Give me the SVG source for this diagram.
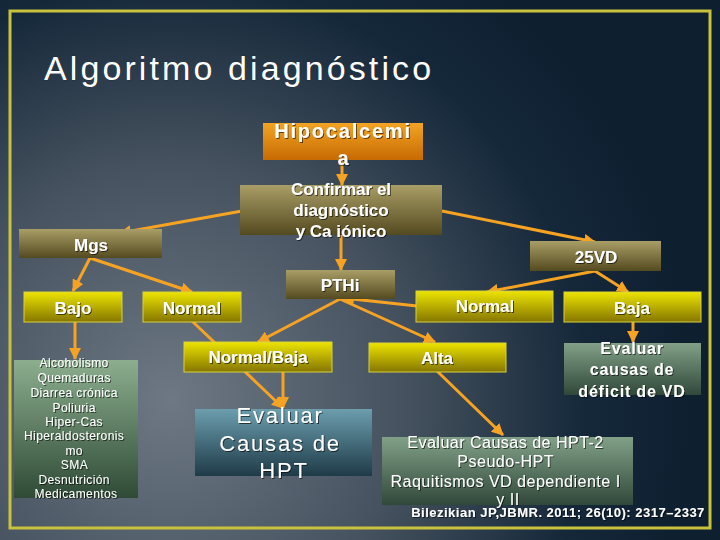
<svg xmlns="http://www.w3.org/2000/svg" width="720" height="540" viewBox="0 0 720 540">
<defs>
<radialGradient id="bg" cx="170" cy="400" r="520" gradientUnits="userSpaceOnUse">
<stop offset="0" stop-color="#6d7884"/>
<stop offset="0.45" stop-color="#46525f"/>
<stop offset="0.8" stop-color="#15283a"/>
<stop offset="1" stop-color="#0e1f30"/>
</radialGradient>
<linearGradient id="gOrange" x1="0" y1="0" x2="0" y2="1">
<stop offset="0" stop-color="#f2a424"/>
<stop offset="1" stop-color="#c76a02"/>
</linearGradient>
<linearGradient id="gOlive" x1="0" y1="0" x2="0" y2="1">
<stop offset="0" stop-color="#a99e66"/>
<stop offset="1" stop-color="#544a20"/>
</linearGradient>
<linearGradient id="gYellow" x1="0" y1="0" x2="0" y2="1">
<stop offset="0" stop-color="#ece400"/>
<stop offset="1" stop-color="#857600"/>
</linearGradient>
<linearGradient id="gGreen" x1="0" y1="0" x2="0" y2="1">
<stop offset="0" stop-color="#8cae8e"/>
<stop offset="1" stop-color="#2f4a36"/>
</linearGradient>
<linearGradient id="gGreen2" x1="0" y1="0" x2="0" y2="1">
<stop offset="0" stop-color="#82a088"/>
<stop offset="1" stop-color="#30483a"/>
</linearGradient>
<linearGradient id="gTeal" x1="0" y1="0" x2="0" y2="1">
<stop offset="0" stop-color="#6c9eae"/>
<stop offset="1" stop-color="#1f3a48"/>
</linearGradient>
<filter id="sh" x="-10%" y="-10%" width="120%" height="130%">
<feDropShadow dx="1" dy="1" stdDeviation="0.6" flood-color="#000" flood-opacity="0.6"/>
</filter>
<marker id="arr" viewBox="0 0 12 12" refX="11" refY="6" markerWidth="12" markerHeight="12" markerUnits="userSpaceOnUse" orient="auto">
<path d="M0,0 L12,6 L0,12 z" fill="#f6a324"/>
</marker>
<style>
.lbl{font-family:"Liberation Sans",Arial,sans-serif;font-weight:bold;fill:#ffffff;text-anchor:middle;filter:url(#sh)}
.reg{font-family:"Liberation Sans",Arial,sans-serif;fill:#ffffff;text-anchor:middle;filter:url(#sh)}
.yel{fill:url(#gYellow);stroke:#d8d23c;stroke-width:1}
.oli{fill:url(#gOlive)}
.con line{stroke:#f6a324;stroke-width:3;marker-end:url(#arr)}
</style>
</defs>
<rect x="0" y="0" width="720" height="540" fill="url(#bg)"/>
<rect x="10" y="11" width="700" height="517" fill="none" stroke="#c9c23c" stroke-width="3"/>
<text x="44" y="80" font-family="'Liberation Sans',Arial,sans-serif" font-size="34" letter-spacing="3.1" fill="#ffffff" stroke="#1a2430" stroke-width="0.6" paint-order="stroke">Algoritmo diagnóstico</text>

<g id="connectors" class="con">
<line x1="342" y1="160" x2="342" y2="185"/>
<line x1="242" y1="211" x2="120" y2="233"/>
<line x1="341" y1="235" x2="341" y2="270"/>
<line x1="442" y1="211" x2="595" y2="242"/>
<line x1="90" y1="258" x2="73" y2="291"/>
<line x1="90" y1="258" x2="192" y2="292"/>
<line x1="75" y1="322" x2="75" y2="359"/>
<line x1="192" y1="321" x2="283" y2="408"/>
<line x1="283" y1="372" x2="283" y2="408"/>
<line x1="340" y1="299" x2="258" y2="342"/>
<line x1="340" y1="299" x2="435" y2="342"/>
<line x1="417" y1="306" x2="343" y2="298"/>
<line x1="595" y1="271" x2="487" y2="292"/>
<line x1="595" y1="271" x2="628" y2="292"/>
<line x1="633" y1="322" x2="633" y2="342"/>
<line x1="437" y1="371" x2="503" y2="435"/>
</g>

<g id="hipocalcemia">
<rect x="263" y="123" width="160" height="37" fill="url(#gOrange)"/>
<text class="lbl" x="343" y="138" font-size="20" letter-spacing="1.8">Hipocalcemi</text>
<text class="lbl" x="343" y="165" font-size="20">a</text>
</g>
<g id="confirmar">
<rect x="240" y="185" width="202" height="50" class="oli"/>
<text class="lbl" x="341" y="195" font-size="17">Confirmar el</text>
<text class="lbl" x="341" y="216" font-size="17">diagnóstico</text>
<text class="lbl" x="341" y="237" font-size="17">y Ca iónico</text>
</g>
<g id="mgs">
<rect x="19" y="229" width="143" height="29" class="oli"/>
<text class="lbl" x="91" y="251" font-size="17">Mgs</text>
</g>
<g id="vd25">
<rect x="530" y="241" width="131" height="30" class="oli"/>
<text class="lbl" x="596" y="263" font-size="17">25VD</text>
</g>
<g id="pthi">
<rect x="286" y="270" width="109" height="29" class="oli"/>
<text class="lbl" x="340" y="291" font-size="17">PTHi</text>
</g>
<g id="bajo">
<rect x="24" y="292" width="98" height="30" class="yel"/>
<text class="lbl" x="73" y="314" font-size="17">Bajo</text>
</g>
<g id="normal-left">
<rect x="143" y="292" width="98" height="30" class="yel"/>
<text class="lbl" x="192" y="314" font-size="17">Normal</text>
</g>
<g id="normal-right">
<rect x="416" y="291" width="137" height="31" class="yel"/>
<text class="lbl" x="485" y="312" font-size="17">Normal</text>
</g>
<g id="baja">
<rect x="564" y="292" width="137" height="30" class="yel"/>
<text class="lbl" x="632" y="314" font-size="17">Baja</text>
</g>
<g id="normal-baja">
<rect x="184" y="342" width="148" height="30" class="yel"/>
<text class="lbl" x="258" y="363" font-size="17">Normal/Baja</text>
</g>
<g id="alta">
<rect x="369" y="343" width="137" height="29" class="yel"/>
<text class="lbl" x="437" y="364" font-size="17">Alta</text>
</g>
<g id="causas-vd">
<rect x="564" y="343" width="137" height="52" fill="url(#gGreen2)"/>
<text class="lbl" x="632" y="354" font-size="16" letter-spacing="0.8">Evaluar</text>
<text class="lbl" x="632" y="375" font-size="16" letter-spacing="0.8">causas de</text>
<text class="lbl" x="632" y="397" font-size="16" letter-spacing="0.8">déficit de VD</text>
</g>
<g id="lista-mgs">
<rect x="14" y="360" width="124" height="138" fill="url(#gGreen)"/>
<text class="reg" font-size="12" letter-spacing="0.4">
<tspan x="76" y="367">Alcoholismo</tspan>
<tspan x="76" y="382">Quemaduras</tspan>
<tspan x="76" y="397">Diarrea crónica</tspan>
<tspan x="76" y="412">Poliuria</tspan>
<tspan x="76" y="426">Hiper-Cas</tspan>
<tspan x="76" y="440">Hiperaldosteronis</tspan>
<tspan x="76" y="455">mo</tspan>
<tspan x="76" y="469">SMA</tspan>
<tspan x="76" y="484">Desnutrición</tspan>
<tspan x="76" y="498">Medicamentos</tspan>
</text>
</g>
<g id="causas-hpt">
<rect x="195" y="409" width="177" height="67" fill="url(#gTeal)"/>
<text class="reg" font-size="22" letter-spacing="1.8">
<tspan x="284" y="423">Evaluar</tspan>
<tspan x="284" y="451">Causas de</tspan>
<tspan x="284" y="478">HPT</tspan>
</text>
</g>
<g id="causas-hpt2">
<rect x="382" y="437" width="251" height="68" fill="url(#gGreen2)"/>
<text class="reg" font-size="16" letter-spacing="0.5">
<tspan x="508" y="448">Evaluar Causas de HPT-2</tspan>
<tspan x="508" y="467">Pseudo-HPT</tspan>
<tspan x="508" y="487">Raquitismos VD dependiente I</tspan>
<tspan x="508" y="505">y II</tspan>
</text>
</g>
<text class="lbl" x="558" y="517" font-size="13" letter-spacing="0.5">Bilezikian JP,JBMR. 2011; 26(10): 2317–2337</text>
</svg>
